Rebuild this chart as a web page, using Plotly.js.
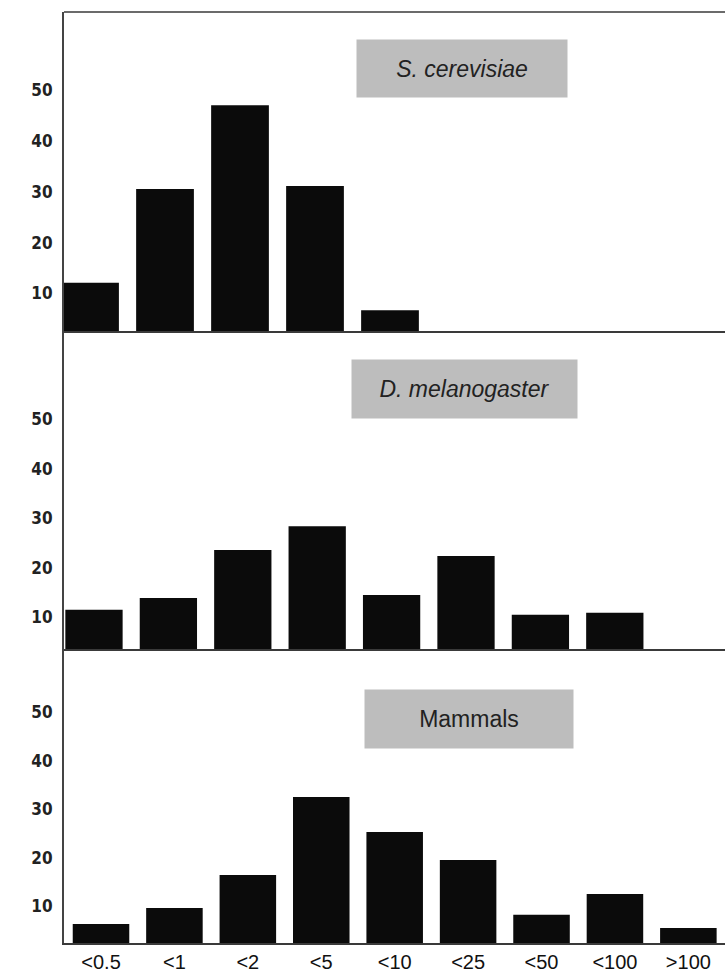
<!DOCTYPE html>
<html>
<head>
<meta charset="utf-8">
<script src="https://cdn.plot.ly/plotly-3.0.1.min.js"></script>
<style>
  html, body { margin: 0; padding: 0; background: #ffffff; }
  #chart { width: 725px; height: 973px; }
</style>
</head>
<body>
<div id="chart"></div>
<script>
// ---- data ----
const categories = ['<0.5', '<1', '<2', '<5', '<10', '<25', '<50', '<100', '>100'];
const yeastValues = [9.5, 28.0, 44.5, 28.6, 4.1];
const flyValues = [7.9, 10.3, 20.0, 24.8, 10.9, 18.8, 6.9, 7.3];
const mammalValues = [3.9, 7.2, 14.0, 30.1, 22.9, 17.1, 5.8, 10.1, 3.1];
const yTicks = [10, 20, 30, 40, 50];
const panelNames = ['S. cerevisiae', 'D. melanogaster', 'Mammals'];

// ---- layout helpers (pixel geometry of the page) ----
const W = 725, H = 973;
const M = { l: 64, r: 0, t: 12, b: 30 };
const plotW = W - M.l - M.r, plotH = H - M.t - M.b;
const px2x = px => (px - M.l) / plotW;
const px2y = py => (H - M.b - py) / plotH;

const barColor = '#0b0b0b';
const seriesList = [yeastValues, flyValues, mammalValues];
const axisSuffix = ['', '2', '3'];

const traces = seriesList.map((vals, i) => ({
  type: 'bar',
  x: categories.slice(0, vals.length),
  y: vals,
  xaxis: 'x' + axisSuffix[i],
  yaxis: 'y' + axisSuffix[i],
  marker: { color: barColor, line: { width: 0 } },
  hoverinfo: 'x+y',
  showlegend: false
}));

const tickFont = { family: 'Liberation Sans Narrow, DejaVu Sans Condensed, Arial Narrow, sans-serif', size: 17, color: '#222', weight: 'bold' };

function xAxis(range, anchor, showLabels) {
  return {
    type: 'category', categoryorder: 'array', categoryarray: categories,
    range: range, domain: [0, 1], anchor: anchor,
    showline: true, linecolor: '#3a3a3a', linewidth: 1.5,
    ticks: '', showgrid: false, zeroline: false,
    showticklabels: showLabels,
    tickfont: { family: 'Liberation Sans, Arial, sans-serif', size: 20, color: '#111' },
    ticklabelstandoff: 0,
    fixedrange: true
  };
}
function yAxis(domain, range, anchor, shift) {
  return {
    domain: domain, range: range, anchor: anchor,
    tickmode: 'array', tickvals: yTicks, ticktext: yTicks.map(String),
    showline: true, linecolor: '#444', linewidth: 2,
    ticks: '', showgrid: false, zeroline: false,
    tickfont: tickFont, ticklabelshift: shift, ticklabelstandoff: 6,
    fixedrange: true
  };
}

const b1 = 331, b2 = 649;
const d1 = px2y(b1), d2 = px2y(b2);

const boxes = [
  { cx: 462, cy: 68, w: 210, h: 57, italic: true },
  { cx: 464, cy: 389, w: 225, h: 58, italic: true },
  { cx: 469, cy: 719, w: 208, h: 58, italic: false }
];

const layout = {
  width: W, height: H,
  margin: M,
  paper_bgcolor: '#ffffff', plot_bgcolor: 'rgba(0,0,0,0)',
  bargap: 0.23,
  xaxis: xAxis([-0.347, 8.467], 'y', false),
  xaxis2: xAxis([-0.403, 8.481], 'y2', false),
  xaxis3: xAxis([-0.504, 8.499], 'y3', true),
  yaxis: yAxis([d1, 1], [0, 62.9], 'x', 13),
  yaxis2: yAxis([d2, d1], [0, 64.2], 'x2', 18),
  yaxis3: yAxis([0, d2], [0, 60.6], 'x3', 12),
  shapes: [
    { type: 'line', xref: 'paper', yref: 'paper', x0: 0, x1: 1, y0: 1, y1: 1,
      line: { color: '#3a3a3a', width: 1.5 } }
  ],
  annotations: boxes.map((b, i) => ({
    text: panelNames[i],
    xref: 'paper', yref: 'paper',
    x: px2x(b.cx), y: px2y(b.cy),
    xanchor: 'center', yanchor: 'middle',
    width: b.w, height: b.h, borderpad: 0,
    bgcolor: '#bdbdbd', showarrow: false,
    font: { family: 'Liberation Sans, Arial, sans-serif', size: 23, color: '#222',
            style: b.italic ? 'italic' : 'normal' }
  }))
};

Plotly.newPlot('chart', traces, layout, { displayModeBar: false, staticPlot: true });
</script>
</body>
</html>
